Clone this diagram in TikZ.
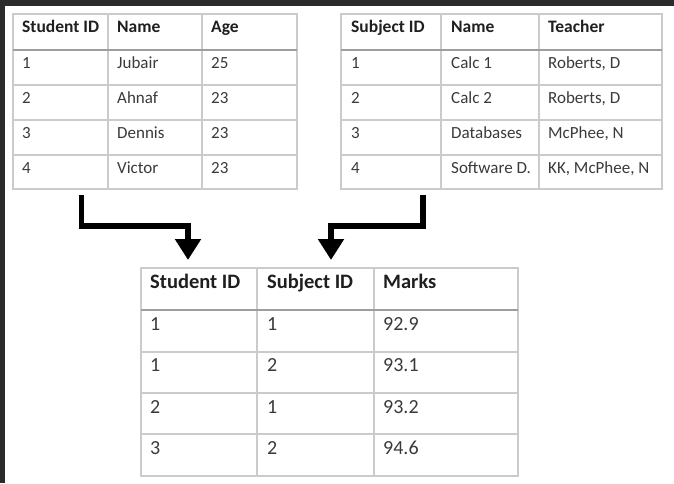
\documentclass[tikz,border=0pt]{standalone}
\usepackage{fontspec}
\setmainfont{Carlito}
\usetikzlibrary{arrows.meta}
\definecolor{framec}{HTML}{2B2B2B}
\definecolor{gridc}{HTML}{CBCBCB}
\definecolor{headc}{HTML}{9E9E9E}
\definecolor{txtc}{HTML}{3A3A3A}
\begin{document}
\begin{tikzpicture}[x=1pt,y=-1pt,
  grid/.style={draw=gridc,line width=1.2pt},
  headrule/.style={draw=headc,line width=2pt},
  tablebox/.style={grid,anchor=north west,inner sep=0pt,outer sep=0pt},
  cellS/.style={anchor=base west,inner sep=0pt,text=txtc,font=\fontsize{17}{19}\selectfont},
  headS/.style={cellS,text=black!88,font=\fontsize{17.5}{19}\selectfont\bfseries},
  cellL/.style={anchor=base west,inner sep=0pt,text=txtc,font=\fontsize{20}{22}\selectfont},
  headL/.style={cellL,text=black!88,font=\fontsize{20.5}{22}\selectfont\bfseries},
  link/.style={draw=black,line width=5.5pt,line join=miter,
    -{Triangle[width=25pt,length=21pt]}}]

% canvas and dark frame strips
\fill[white] (0,0) rectangle (674,483);
\fill[framec] (0,0) rectangle (674,6);
\fill[framec] (0,0) rectangle (5,483);
\useasboundingbox (0,0) rectangle (674,483);

% ---------- Students table ----------
\node[tablebox,minimum width=284pt,minimum height=175pt] (students) at (13,14) {};
\foreach \x in {108,202} \draw[grid] (\x,14) -- (\x,189);
\foreach \y in {85,120,155} \draw[grid] (13,\y) -- (297,\y);
\draw[headrule] (13,50) -- (297,50);
\node[headS] (st-h1) at (22,32) {Student ID};
\node[headS] (st-h2) at (117,32) {Name};
\node[headS] (st-h3) at (211,32) {Age};
\foreach \a/\b/\c [count=\r] in {1/Jubair/25, 2/Ahnaf/23, 3/Dennis/23, 4/Victor/23} {
  \node[cellS] (st-\r-1) at (22,{68+35*(\r-1)}) {\a};
  \node[cellS] (st-\r-2) at (117,{68+35*(\r-1)}) {\b};
  \node[cellS] (st-\r-3) at (211,{68+35*(\r-1)}) {\c};
}

% ---------- Subjects table ----------
\node[tablebox,minimum width=321pt,minimum height=175pt] (subjects) at (341,14) {};
\foreach \x in {441,539} \draw[grid] (\x,14) -- (\x,189);
\foreach \y in {85,120,155} \draw[grid] (341,\y) -- (662,\y);
\draw[headrule] (341,50) -- (662,50);
\node[headS] (sb-h1) at (351,32) {Subject ID};
\node[headS] (sb-h2) at (451,32) {Name};
\node[headS] (sb-h3) at (548,32) {Teacher};
\foreach \a/\b/\c [count=\r] in {1/Calc 1/{Roberts, D}, 2/Calc 2/{Roberts, D},
    3/Databases/{McPhee, N}, 4/Software D./{KK, McPhee, N}} {
  \node[cellS] (sb-\r-1) at (351,{68+35*(\r-1)}) {\a};
  \node[cellS] (sb-\r-2) at (451,{68+35*(\r-1)}) {\b};
  \node[cellS] (sb-\r-3) at (548,{68+35*(\r-1)}) {\c};
}

% ---------- Marks table ----------
\node[tablebox,minimum width=377pt,minimum height=208pt] (marks) at (141,268) {};
\foreach \x in {257,374} \draw[grid] (\x,268) -- (\x,476);
\foreach \y in {352,393,434} \draw[grid] (141,\y) -- (518,\y);
\draw[headrule] (141,310) -- (518,310);
\node[headL] (mk-h1) at (150,288) {Student ID};
\node[headL] (mk-h2) at (267,288) {Subject ID};
\node[headL] (mk-h3) at (383,288) {Marks};
\foreach \a/\b/\c [count=\r] in {1/1/92.9, 1/2/93.1, 2/1/93.2, 3/2/94.6} {
  \node[cellL] (mk-\r-1) at (150,{330+41.5*(\r-1)}) {\a};
  \node[cellL] (mk-\r-2) at (267,{330+41.5*(\r-1)}) {\b};
  \node[cellL] (mk-\r-3) at (383,{330+41.5*(\r-1)}) {\c};
}

% ---------- connectors ----------
\coordinate (fromStudents) at ([xshift=68.5pt,yshift=-6pt]students.south west);
\coordinate (fromSubjects) at ([xshift=82pt,yshift=-6pt]subjects.south west);
\coordinate (bendL) at (188,226);
\coordinate (bendR) at (331,226);
\draw[link] (fromStudents) |- (bendL) -- ([yshift=8pt]marks.north -| bendL);
\draw[link] (fromSubjects) |- (bendR) -- ([yshift=8pt]marks.north -| bendR);
\end{tikzpicture}
\end{document}
